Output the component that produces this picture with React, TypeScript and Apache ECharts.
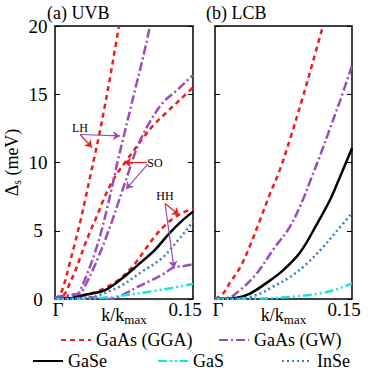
import React, { useEffect, useRef } from 'react';
import * as echarts from 'echarts';

// ---------- (a) UVB panel ----------
const kGgaLH = [0, 0.0054, 0.0109, 0.0163, 0.0217, 0.0272, 0.0326, 0.038, 0.0435, 0.0489, 0.0543, 0.0598, 0.0652, 0.0696];
const dGgaLH = [0, 0.3, 1.3, 2.7, 4.1, 5.6, 7.2, 8.9, 10.6, 12.3, 14.2, 16.2, 18.3, 20];
const kGgaSO = [0, 0.0054, 0.0109, 0.0163, 0.0217, 0.0272, 0.0326, 0.038, 0.0457, 0.0522, 0.0598, 0.0685, 0.0761, 0.0848, 0.0957, 0.1065, 0.1217, 0.1359, 0.15];
const dGgaSO = [0, 0.1, 0.4, 1.2, 2.0, 3.0, 4.0, 4.9, 6.1, 7.2, 8.3, 9.3, 10.0, 10.8, 11.8, 12.7, 13.7, 14.6, 15.5];
const kGgaHH = [0, 0.0217, 0.0435, 0.0598, 0.0728, 0.087, 0.0978, 0.1087, 0.1196, 0.1304, 0.1413, 0.15];
const dGgaHH = [0, 0.2, 0.5, 1.0, 1.6, 2.6, 3.6, 4.6, 5.4, 6.0, 6.4, 6.6];

const kGwLH = [0, 0.0109, 0.0185, 0.025, 0.0304, 0.0359, 0.0424, 0.0489, 0.0554, 0.062, 0.0685, 0.075, 0.0815, 0.088, 0.0957, 0.1033];
const dGwLH = [0.1, 0.2, 0.3, 0.4, 1.1, 2.0, 3.2, 4.6, 6.3, 8.2, 10.2, 12.0, 13.8, 15.6, 17.7, 20];
const kGwSO = [0, 0.0109, 0.0185, 0.0272, 0.0337, 0.0402, 0.0467, 0.0543, 0.062, 0.0685, 0.075, 0.0815, 0.087, 0.0924, 0.1033, 0.1174, 0.1326, 0.1467, 0.15];
const dGwSO = [0.1, 0.2, 0.3, 0.4, 1.1, 2.0, 3.0, 4.3, 5.7, 7.0, 8.3, 9.6, 10.7, 11.6, 13.0, 14.4, 15.3, 16.2, 16.4];
const kGwHH = [0, 0.0109, 0.0239, 0.038, 0.0489, 0.0598, 0.0761, 0.0902, 0.1054, 0.1196, 0.1283, 0.1391, 0.15];
const dGwHH = [0.1, 0.25, 0.3, 0.15, 0.05, 0, 0.4, 0.9, 1.4, 1.9, 2.3, 2.4, 2.55];

const kGaSeA = [0, 0.0163, 0.0326, 0.0543, 0.0728, 0.0902, 0.1087, 0.1228, 0.1359, 0.15];
const dGaSeA = [0, 0.05, 0.3, 0.65, 1.5, 2.5, 3.6, 4.7, 5.6, 6.4];
const kGaSA = [0, 0.0435, 0.0728, 0.1087, 0.1304, 0.15];
const dGaSA = [0, 0.05, 0.25, 0.6, 0.85, 1.1];
const kInSeA = [0, 0.038, 0.0489, 0.0598, 0.0728, 0.0946, 0.1163, 0.1337, 0.1446, 0.15];
const dInSeA = [0, 0.1, 0.3, 0.6, 1.0, 2.0, 3.0, 4.3, 5.2, 5.7];

// ---------- (b) LCB panel ----------
const kGgaB = [0, 0.0088, 0.0164, 0.0274, 0.0383, 0.0493, 0.0602, 0.0712, 0.0821, 0.0953, 0.1073, 0.1182];
const dGgaB = [0, 0.4, 1.2, 2.3, 3.9, 5.8, 7.7, 9.5, 11.7, 14.6, 17.4, 20];
const kGwB = [0, 0.0131, 0.0274, 0.046, 0.0635, 0.0821, 0.0964, 0.104, 0.115, 0.1259, 0.1368, 0.15];
const dGwB = [0.05, 0.07, 0.65, 1.9, 3.6, 5.3, 7.3, 8.6, 10.5, 12.5, 14.5, 17.1];
const kGaSeB = [0, 0.0241, 0.0383, 0.0569, 0.0745, 0.0931, 0.1117, 0.1259, 0.1347, 0.15];
const dGaSeB = [0, 0.1, 0.4, 1.2, 2.1, 3.4, 5.5, 7.25, 8.6, 11.05];
const kInSeB = [0, 0.0274, 0.046, 0.0635, 0.0821, 0.1007, 0.1182, 0.1336, 0.15];
const dInSeB = [0, 0.05, 0.3, 0.9, 1.6, 2.6, 3.8, 5.0, 6.3];
const kGaSB = [0, 0.0383, 0.0821, 0.1182, 0.1369, 0.15];
const dGaSB = [0, 0.02, 0.15, 0.45, 0.8, 1.15];

// ---------- labels ----------
const yTicks = [0, 5, 10, 15, 20];
const xTickLabels = ['Γ', '0.15'];
const panelTitles = ['(a) UVB', '(b) LCB'];
const legendNames = ['GaAs (GGA)', 'GaAs (GW)', 'GaSe', 'GaS', 'InSe'];

// annotations: [label, kText, dText]
const annoText = [
  ['LH', 0.0272, 12.5],
  ['SO', 0.1087, 9.96],
  ['HH', 0.1196, 7.55],
];
// arrows: from [k,d] to [k,d]
const redArrows = [
  [[0.0272, 12.05], [0.0402, 11.1]],
  [[0.1, 10.0], [0.075, 10.0]],
  [[0.1196, 7.0], [0.1348, 6.15]],
];
const purpleArrows = [
  [[0.0272, 12.05], [0.0707, 11.95]],
  [[0.1011, 9.9], [0.0772, 8.05]],
  [[0.1196, 7.0], [0.1293, 2.27]],
];

const RED = '#f21b1b';
const PURPLE = '#9a4cb8';
const BLACK = '#000000';
const CYAN = '#19e3e3';
const BLUE = '#3a7cc6';
const FONT = 'Liberation Serif';

const zip = (k: number[], d: number[]) => k.map((v, i) => [v, d[i]]);

const styles: Record<string, { color: string; type: any }> = {
  'GaAs (GGA)': { color: RED, type: [5, 4] },
  'GaAs (GW)': { color: PURPLE, type: [9, 3, 2, 3] },
  GaSe: { color: BLACK, type: 'solid' },
  GaS: { color: CYAN, type: [9, 3, 2, 3, 2, 3] },
  InSe: { color: BLUE, type: [2, 3] },
};

function line(name: string, k: number[], d: number[], panel: number, extra: any = {}) {
  const s = styles[name];
  return {
    type: 'line',
    name,
    xAxisIndex: panel,
    yAxisIndex: panel * 2,
    data: zip(k, d),
    smooth: 0.35,
    symbol: 'none',
    showSymbol: false,
    clip: true,
    color: s.color,
    lineStyle: { color: s.color, width: 2.5, type: s.type },
    emphasis: { disabled: true },
    silent: true,
    ...extra,
  };
}

function arrowLines(arr: number[][][], color: string) {
  return {
    silent: true,
    symbol: ['none', 'arrow'],
    symbolSize: 7,
    label: { show: false },
    emphasis: { disabled: true },
    lineStyle: { color, width: 1.2, type: 'solid' },
    data: arr.map(([a, b]) => [{ coord: a }, { coord: b }]),
  };
}

export default function App() {
  const ref = useRef<HTMLDivElement>(null);
  useEffect(() => {
    if (!ref.current) return;
    const el = ref.current;
    const chart = echarts.init(el, undefined, { renderer: 'svg' });

    const grids = [
      { left: 55, top: 26, width: 138, height: 273 },
      { left: 215, top: 26, width: 137, height: 273 },
    ].map((g) => ({ ...g, show: true, borderColor: '#000', borderWidth: 1.5, backgroundColor: 'transparent' }));

    const xAxes = [0, 1].map((i) => ({
      type: 'value',
      gridIndex: i,
      min: 0,
      max: 0.15,
      interval: 0.15,
      axisLine: { show: false },
      axisTick: { show: false },
      splitLine: { show: false },
      axisLabel: {
        margin: 1,
        fontFamily: FONT,
        formatter: (v: number) => (v === 0 ? '{g|' + xTickLabels[0] + '}' : '{n|' + xTickLabels[1] + '}'),
        rich: {
          g: { fontSize: 19, fontFamily: FONT, color: '#000', padding: [0, 0, 0, 6] },
          n: { fontSize: 19, fontFamily: FONT, color: '#000', padding: [0, 16, 0, 0] },
        },
      },
      name: '{a|k/k}{b|max}',
      nameLocation: 'middle',
      nameGap: 5,
      nameMoveOverlap: false,
      nameTextStyle: {
        fontFamily: FONT,
        rich: {
          a: { fontSize: 18, fontFamily: FONT, color: '#000', lineHeight: 22 },
          b: { fontSize: 13, fontFamily: FONT, color: '#000', lineHeight: 10, verticalAlign: 'bottom' },
        },
      },
    }));

    const yAxes: any[] = [];
    [0, 1].forEach((g) => {
      ['left', 'right'].forEach((pos) => {
        const withLabels = g === 0 && pos === 'left';
        yAxes.push({
          type: 'value',
          gridIndex: g,
          position: pos,
          min: yTicks[0],
          max: yTicks[yTicks.length - 1],
          interval: yTicks[1] - yTicks[0],
          axisLine: { show: false },
          splitLine: { show: false },
          axisTick: { show: true, inside: true, length: 5, lineStyle: { color: '#000', width: 1 } },
          axisLabel: {
            show: withLabels,
            margin: 17,
            align: 'center',
            fontSize: 19,
            fontFamily: FONT,
            color: '#000',
          },
          ...(withLabels
            ? {
                name: '{a|Δ}{b|s}{a| (meV)}',
                nameLocation: 'middle',
                nameGap: 32,
                nameRotate: 90,
                nameMoveOverlap: false,
                nameTextStyle: {
                  fontFamily: FONT,
                  rich: {
                    a: { fontSize: 18, fontFamily: FONT, color: '#000', lineHeight: 22 },
                    b: { fontSize: 12, fontFamily: FONT, color: '#000', lineHeight: 10, verticalAlign: 'bottom' },
                  },
                },
              }
            : {}),
        });
      });
    });

    const series: any[] = [
      line('GaAs (GGA)', kGgaLH, dGgaLH, 0, {
        markLine: arrowLines(redArrows, RED),
        markPoint: {
          silent: true,
          symbol: 'circle',
          symbolSize: 1,
          itemStyle: { color: 'rgba(0,0,0,0)' },
          label: { show: true, position: 'inside', formatter: '{b}', fontSize: 12, fontFamily: FONT, color: '#000' },
          data: annoText.map(([n, k, d]) => ({ name: n, coord: [k, d] })),
        },
      }),
      line('GaAs (GGA)', kGgaSO, dGgaSO, 0),
      line('GaAs (GGA)', kGgaHH, dGgaHH, 0),
      line('GaAs (GW)', kGwLH, dGwLH, 0, { markLine: arrowLines(purpleArrows, PURPLE) }),
      line('GaAs (GW)', kGwSO, dGwSO, 0),
      line('GaAs (GW)', kGwHH, dGwHH, 0),
      line('GaSe', kGaSeA, dGaSeA, 0),
      line('GaS', kGaSA, dGaSA, 0),
      line('InSe', kInSeA, dInSeA, 0),
      line('GaAs (GGA)', kGgaB, dGgaB, 1),
      line('GaAs (GW)', kGwB, dGwB, 1),
      line('GaSe', kGaSeB, dGaSeB, 1),
      line('GaS', kGaSB, dGaSB, 1),
      line('InSe', kInSeB, dInSeB, 1),
    ];

    const legendPos = [
      [60, 331],
      [218, 331],
      [32, 352],
      [157, 352],
      [281, 352],
    ];
    const legends = legendNames.map((n, i) => ({
      data: [n],
      left: legendPos[i][0],
      top: legendPos[i][1],
      padding: 0,
      itemWidth: 30,
      itemHeight: 14,
      itemGap: 5,
      selectedMode: false,
      itemStyle: { opacity: 0 },
      textStyle: { fontSize: 18, fontFamily: FONT, color: '#000' },
    }));

    chart.setOption({
      animation: false,
      backgroundColor: '#fff',
      textStyle: { fontFamily: FONT },
      title: panelTitles.map((t, i) => ({
        text: t,
        left: i === 0 ? 47 : 206,
        top: 4,
        padding: 0,
        textStyle: { fontSize: 18, fontWeight: 'normal', fontFamily: FONT, color: '#000' },
      })),
      legend: legends,
      grid: grids,
      xAxis: xAxes,
      yAxis: yAxes,
      series,
    });

    const forceFont = () => {
      el.querySelectorAll('text, tspan').forEach((t) => {
        (t as SVGElement).style.fontFamily = "'Liberation Serif', serif";
      });
    };
    forceFont();
    chart.on('finished', forceFont);
    const timer = window.setTimeout(forceFont, 50);

    return () => {
      window.clearTimeout(timer);
      chart.dispose();
    };
  }, []);
  return <div ref={ref} style={{ position: 'fixed', left: 0, top: 0, width: 374, height: 374 }} />;
}
